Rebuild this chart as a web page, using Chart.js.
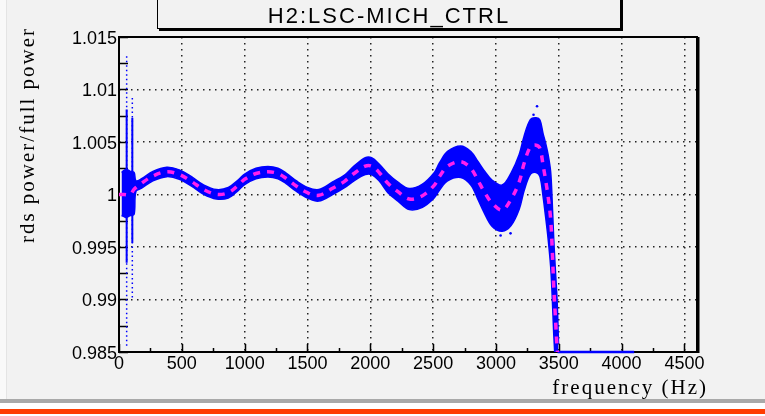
<!DOCTYPE html>
<html>
<head>
<meta charset="utf-8">
<title>H2:LSC-MICH_CTRL</title>
<script src="https://cdn.jsdelivr.net/npm/chart.js@4.4.1/dist/chart.umd.min.js"></script>
<style>
  html, body { margin: 0; padding: 0; background: #f2f2f2; }
  #wrap { position: relative; width: 765px; height: 416px; overflow: hidden; }
  #wrap canvas { position: absolute; left: 0; top: 0; }
  #edge { position: absolute; left: 0; top: 0; width: 6px; height: 399px; background: #f9f9f9; border-right: 1px solid #e4e4e4; }
  #title {
    position: absolute; left: 157px; top: -2px; width: 462px; height: 29px;
    border: 1px solid #000; box-shadow: 2px 2px 0 #000; background: #f2f2f2;
    font: 22px "Liberation Sans", Arial, sans-serif; letter-spacing: 2px;
    text-align: center; line-height: 33px; color: #000; z-index: 2;
  }
  .bar { position: absolute; left: 0; width: 765px; }
  #bar1 { top: 399px; height: 4px; background: #a9a9a9; }
  #bar2 { top: 403px; height: 6px; background: #ffffff; }
  #bar3 { top: 409px; height: 5px; background: #ff3c00; }
  #bar4 { top: 414px; height: 2px; background: #ffffff; }
</style>
</head>
<body>
<div id="wrap">
  <div id="edge"></div>
  <canvas id="mycanvas" width="765" height="416"></canvas>
  <div id="title">H2:LSC-MICH_CTRL</div>
  <div class="bar" id="bar1"></div>
  <div class="bar" id="bar2"></div>
  <div class="bar" id="bar3"></div>
  <div class="bar" id="bar4"></div>
</div>
<script>
// axis ticks
var xTicks = [0, 500, 1000, 1500, 2000, 2500, 3000, 3500, 4000, 4500];
var yTicks = [0.985, 0.99, 0.995, 1, 1.005, 1.01, 1.015];

// fitted response (dashed magenta)
var modelFreq = [0, 40, 90, 120, 180, 270, 380, 480, 580, 670, 775, 870, 950, 1000, 1090, 1185, 1265, 1330, 1410, 1500,
  1590, 1700, 1795, 1870, 1960, 2010, 2070, 2140, 2220, 2310, 2415, 2510, 2550, 2615, 2720, 2800, 2855, 2905, 2970, 3050,
  3120, 3185, 3225, 3275, 3320, 3350, 3375, 3395, 3415, 3435, 3447, 3460, 3474, 3487, 3495];
var modelVal = [1.0000, 1.0000, 1.0000, 1.0005, 1.00107, 1.00176, 1.00217, 1.0019, 1.00122, 1.00049, 1.00002, 1.00017, 1.0009, 1.00145, 1.0020, 1.00217, 1.0020, 1.00154, 1.00081, 1.00017,
  0.99992, 1.00059, 1.00125, 1.0020, 1.0027, 1.0027, 1.0021, 1.00107, 1.00027, 0.99957, 0.99989, 1.0009, 1.0017, 1.0027, 1.00312, 1.0025, 1.00138, 1.0003, 0.99916, 0.99852,
  0.99954, 1.0012, 1.0030, 1.00455, 1.0047, 1.0044, 1.0028, 1.00138, 0.9998, 0.9977, 0.9950, 0.9912, 0.9881, 0.9853, 0.9845];

// spread of the measured points (blue band)
var bandFreq = [20, 40, 60, 90, 120, 135, 180, 270, 380, 480, 580, 670, 775, 870, 950, 1000, 1090, 1185, 1265, 1330,
  1410, 1500, 1590, 1700, 1795, 1870, 1960, 2010, 2070, 2140, 2220, 2310, 2415, 2510, 2550, 2615, 2720, 2800, 2855, 2905,
  2970, 3050, 3120, 3185, 3225, 3275, 3320, 3350, 3375, 3395, 3415, 3435, 3447, 3460, 3474, 3487, 3498];
var bandHigh = [1.0021, 1.0023, 1.0024, 1.0022, 1.0021, 1.0013, 1.0015, 1.0022, 1.0026, 1.00235, 1.00167, 1.00094, 1.00047, 1.00067, 1.0014, 1.00195, 1.0025, 1.00267, 1.0025, 1.00204,
  1.00131, 1.00067, 1.00047, 1.00119, 1.00185, 1.0027, 1.0035, 1.0035, 1.0029, 1.00197, 1.00117, 1.00057, 1.00099, 1.0021, 1.0030, 1.0041, 1.00462, 1.0041, 1.00318, 1.0023,
  1.00136, 1.0009, 1.00204, 1.0038, 1.0056, 1.00715, 1.0073, 1.0071, 1.0058, 1.00488, 1.0038, 1.0022, 0.9995, 0.9957, 0.9926, 0.9898, 0.9858];
var bandLow = [0.9980, 0.9979, 0.9978, 0.9980, 0.9981, 1.0003, 1.0006, 1.0013, 1.0017, 1.00145, 1.00077, 1.00004, 0.99957, 0.99967, 1.0004, 1.00095, 1.0015, 1.00167, 1.0015, 1.00104,
  1.00031, 0.99967, 0.99937, 0.99999, 1.00065, 1.0013, 1.0019, 1.0019, 1.0013, 1.00017, 0.99937, 0.99857, 0.99879, 0.9997, 1.0004, 1.0013, 1.00162, 1.0009, 0.99958, 0.9983,
  0.99696, 0.9965, 0.99704, 0.9986, 1.0004, 1.00195, 1.0021, 1.0017, 0.9998, 0.99788, 0.9958, 0.9932, 0.9905, 0.9867, 0.9836, 0.9808, 0.9800];

// low frequency glitches
var spikeFreq = [61, 106];
var spikeTop = [1.0132, 1.0093];
var spikeBottom = [0.9856, 0.9902];
var spikeCoreTop = [1.0081, 1.0073];
var spikeCoreBottom = [0.9935, 0.9954];

// stray points
var strayFreq = [2944, 2971, 3037, 3116, 3299, 3327];
var strayVal = [1.0014, 1.0011, 0.9961, 0.9963, 1.0076, 1.0084];

// dead zone above cutoff
var tailFreq = [3490, 4100];
var tailVal = [0.985, 0.985];

function pts(xs, ys) {
  return xs.map(function(x, i) { return {x: x, y: ys[i]}; });
}

var BLUE = '#0000ff';

var datasets = [
  {data: pts(bandFreq, bandLow), borderColor: BLUE, borderWidth: 1.5, pointRadius: 0,
   tension: 0.35, order: 5},
  {data: pts(bandFreq, bandHigh), borderColor: BLUE, borderWidth: 1.5, pointRadius: 0,
   tension: 0.35, fill: '-1', backgroundColor: BLUE, order: 5}
];
spikeFreq.forEach(function(f, i) {
  datasets.push({data: [{x: f, y: spikeBottom[i]}, {x: f, y: spikeTop[i]}],
    borderColor: BLUE, borderWidth: 1.5, borderDash: [1.5, 3], pointRadius: 0, order: 4});
  datasets.push({data: [{x: f, y: spikeCoreBottom[i]}, {x: f, y: spikeCoreTop[i]}],
    borderColor: BLUE, borderWidth: 2, pointRadius: 0, order: 4});
});
datasets.push({data: pts(strayFreq, strayVal), showLine: false, pointRadius: 1.3,
  pointBackgroundColor: BLUE, pointBorderWidth: 0, order: 3});
datasets.push({data: pts(tailFreq, tailVal), borderColor: BLUE, borderWidth: 2.5, pointRadius: 0,
  clip: false, order: 2});
datasets.push({data: pts(modelFreq, modelVal), borderColor: '#ff1fee', borderWidth: 3.5,
  borderDash: [7, 7], pointRadius: 0, tension: 0.35, order: 0});

// frame, inward ticks and axis titles in the ROOT style
var rootFrame = {
  id: 'rootFrame',
  beforeDatasetsDraw: function(chart) {
    var ctx = chart.ctx, a = chart.chartArea, xs = chart.scales.x, ys = chart.scales.y;
    ctx.save();
    ctx.strokeStyle = '#000';
    ctx.lineWidth = 2;
    ctx.strokeRect(a.left, a.top, a.right - a.left, a.bottom - a.top);
    ctx.beginPath();
    ctx.moveTo(a.right + 1.5, a.top);
    ctx.lineTo(a.right + 1.5, a.bottom + 1);
    ctx.stroke();

    ctx.lineWidth = 1.5;
    ctx.beginPath();
    var i, p, m;
    for (i = 0; i < yTicks.length; i++) {
      p = Math.round(ys.getPixelForValue(yTicks[i])) + 0.5;
      ctx.moveTo(a.left, p); ctx.lineTo(a.left + 9, p);
      if (i < yTicks.length - 1) {
        m = Math.round(ys.getPixelForValue((yTicks[i] + yTicks[i + 1]) / 2)) + 0.5;
        ctx.moveTo(a.left, m); ctx.lineTo(a.left + 9, m);
      }
    }
    for (i = 0; i < xTicks.length; i++) {
      p = Math.round(xs.getPixelForValue(xTicks[i])) + 0.5;
      ctx.moveTo(p, a.bottom); ctx.lineTo(p, a.bottom - 8);
      m = Math.round(xs.getPixelForValue(xTicks[i] + 250)) + 0.5;
      if (m < a.right) { ctx.moveTo(m, a.bottom); ctx.lineTo(m, a.bottom - 4); }
    }
    ctx.stroke();
    ctx.restore();
  },
  afterDraw: function(chart) {
    var ctx = chart.ctx;
    ctx.save();
    ctx.fillStyle = '#000';
    ctx.font = '21px "Liberation Serif", "Times New Roman", serif';
    ctx.letterSpacing = '2px';
    ctx.textAlign = 'right';
    ctx.textBaseline = 'alphabetic';
    ctx.fillText('frequency (Hz)', 708, 394);
    ctx.translate(34, 135);
    ctx.rotate(-Math.PI / 2);
    ctx.textAlign = 'center';
    ctx.fillText('rds power/full power', 0, 0);
    ctx.restore();
  }
};

var tickFont = {family: '"Liberation Sans", Arial, sans-serif', size: 18};

var ctx = document.getElementById('mycanvas');
var lineGraph = new Chart(ctx, {
  type: 'line',
  data: {datasets: datasets},
  options: {
    responsive: false,
    animation: false,
    devicePixelRatio: 1,
    layout: {padding: {top: 37, right: 68, left: 0, bottom: 0}},
    plugins: {legend: {display: false}, tooltip: {enabled: false}},
    scales: {
      x: {
        type: 'linear', min: 0, max: 4600,
        afterBuildTicks: function(s) { s.ticks = xTicks.map(function(v) { return {value: v}; }); },
        afterFit: function(s) { s.height = 64; },
        grid: {color: 'rgba(0,0,0,0.85)', lineWidth: 1.5, drawTicks: false},
        border: {display: false, dash: [1.5, 4.5]},
        ticks: {padding: 1, color: '#000', font: tickFont, maxRotation: 0, autoSkip: false,
          callback: function(v) { return String(v); }}
      },
      y: {
        min: 0.985, max: 1.015,
        afterBuildTicks: function(s) { s.ticks = yTicks.map(function(v) { return {value: v}; }); },
        afterFit: function(s) { s.width = 119; },
        grid: {color: 'rgba(0,0,0,0.85)', lineWidth: 1.5, drawTicks: false},
        border: {display: false, dash: [1.5, 4.5]},
        ticks: {padding: 2, labelOffset: 2, color: '#000', font: tickFont, autoSkip: false,
          callback: function(v) { return String(+v.toFixed(3)); }}
      }
    }
  },
  plugins: [rootFrame]
});
</script>
</body>
</html>
